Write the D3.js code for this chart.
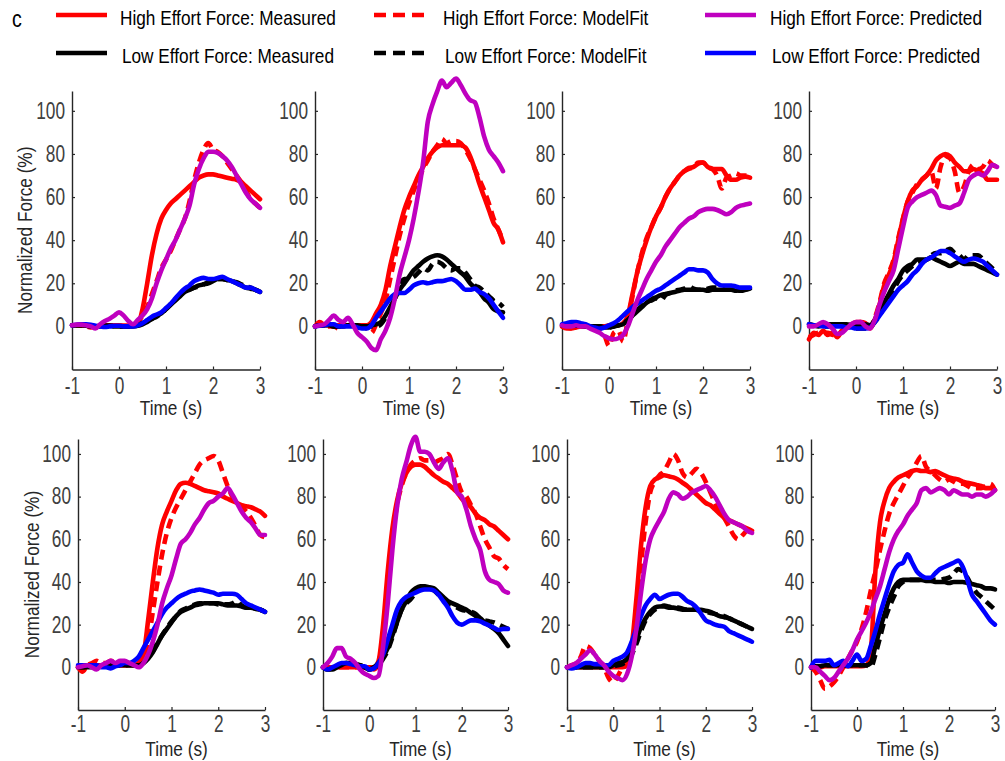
<!DOCTYPE html>
<html>
<head>
<meta charset="utf-8">
<script src="https://cdn.jsdelivr.net/npm/d3@7"></script>
<style>
  html, body { margin: 0; padding: 0; background: #fff; }
  svg { display: block; }
  text { font-family: "Liberation Sans", Arial, sans-serif; }
</style>
</head>
<body>
<svg id="chart" width="1005" height="761"></svg>
<script>
// Time base shared by every trace (seconds)
const time = [-1,-0.9,-0.8,-0.7,-0.6,-0.5,-0.4,-0.3,-0.2,-0.1,0,0.1,0.2,0.3,0.4,0.5,0.6,0.7,0.8,0.9,
  1,1.1,1.2,1.3,1.4,1.5,1.6,1.7,1.8,1.9,2,2.1,2.2,2.3,2.4,2.5,2.6,2.7,2.8,2.9,3];

const seriesNames = [
  "High Effort Force: Measured", "High Effort Force: ModelFit", "High Effort Force: Predicted",
  "Low Effort Force: Measured", "Low Effort Force: ModelFit", "Low Effort Force: Predicted"
];
const xTicks = [-1, 0, 1, 2, 3];
const yTicks = [0, 20, 40, 60, 80, 100];

// Each panel: [high measured, high fit, high predicted, low measured, low fit, low predicted]
const panel1 = [
  [0.5,0.5,0.3,0.3,0,0,0.3,0.5,0.5,0.5, 0.5,0.3,0.3,0.3,1,8,20,33,43,50, 54,57,59,61,63,65,67,69,70,70.5, 70.5,70,69.5,69,68.5,68,67,65,63,61, 59],
  [0.5,0.5,0.3,0,-0.5,0,0.3,0.5,0.5,0.5, 0.3,0.3,0.3,0.5,2,5,9,15,21,27, 31,35,40,45,50,58,68,76,82,85, 82,81,79,76,73,70,67,63,59,57, 55],
  [0.5,0.8,0.8,0.5,0,-1,1,2.5,3.5,5, 6.5,5,2.5,1,3,5,8,13,20,26, 31,36,40,45,50,56,66,73,78,81, 81,80.5,79,77,74,70,66,62,59,57, 55],
  [0.5,0.5,0.5,0.3,0,0,0,0.3,0.3,0, 0,0,0,0,0.3,1,2,3.5,5,6, 8,10,12,14,16,17,18,19,19.5,20, 21,22,22,21.5,21,20,19,18,17.5,17, 16],
  [0.5,0.5,0.5,0.3,0,0,0,0.3,0.3,0, 0,0,0,0,0.5,1.5,2.5,3.5,4.5,6, 8,10.5,12.5,14.5,16,17,18,18.5,19.5,20.5, 21.5,22,22,21.5,21,20.5,19.5,18.5,18,17, 16],
  [0.5,0.8,1,1,0.8,0.3,0,-0.3,0,0.3, 0.3,0,0,0,0.5,1.5,3,4.5,5.5,6.5, 8.5,10.5,13,15.5,17.5,19,21,22,22.5,22, 22,22.5,23,22,21,20,19,18,18,17, 16]
];
const panel2 = [
  [0,0.5,0.5,0.5,0.5,0.5,0.5,0.5,0.5,0.5, 0.5,0.5,2,6,10,17,28,37,46,54, 60,65,70,74,78,81,83,84,84,84, 84,84,83,79,73,66,60,54,48,45, 39],
  [0,2,0.5,0,0,-1,0,0.5,1,0.5, 0,-1,-3,1,6,12,22,32,42,50, 57,63,68,73,77,81,84,87,85,86, 86,85,82,78,73,68,63,57,50,45, 40],
  [0,0.5,1,3,5,3,2,4,1,-3, -5,-7,-10,-11,-6,-2,4,13,24,32, 40,50,62,76,95,103,109,114,111,113, 115,112,108,105,104,97,88,82,79,76, 72],
  [0,0.5,0.5,0.5,0,0,0,0.5,0.5,0.5, 0,0,0.5,1,2,5,9,13,17,20, 23,26,28,30,31.5,32.5,33,32.5,31,29, 27,25,23,20,18,16,13,11,8,7, 6.5],
  [0,0.5,0.5,0.5,0,0,0,0.5,0.5,0.5, 0,0,0,0,1,4,8,13,19,22, 22,23,25,27,26,29,30,29,27,26, 27,27,25,22,19,18,16,14,12,11, 9],
  [0,0.3,0.5,1,1,0,0,0,0,-0.5, -1,-1,0.5,4,7,10,13,15,15.5,15.5, 17,19,20,20.5,20,20.5,21,21,21.5,22, 21,19,17,17,17.5,16,15,13,10,7, 4]
];
const panel3 = [
  [0,-0.5,-1,-0.5,0,0,0,0,0,0, 0.5,0.5,0.5,1.5,5,15,25,33,40,46, 51,55,60,64,67,70,72,73.5,74,75.5, 76,74,73,73,73,70,68,68,69,69.5, 69],
  [0,-1,-1,0,0,0,0,0,-1,-4, -9,-3,-2,-7,3,14,25,34,41,46, 51,55,60,64,67,70,72,73,74,76, 76,74,73,70,64,69,70,71,70,70, 69],
  [0.5,0,0,0.5,0,0,-1,-2,-3,-4.5, -5.5,-6,-5.5,-4,0,6,12,17,22,26, 30,33,37,40,43,46,48,50,51,53, 54,54.5,54.5,54,53,52,53,55,56,56.5, 57],
  [0.5,0.5,0.5,0.3,0.3,0,0,0,0,-0.5, -0.5,0,0.5,1,3,5,7,9,11,12.5, 13.5,14.5,15,15.5,16,16.5,17,17,17,17, 17,16.5,17,17,17,17,17,16.5,17,17, 17.5],
  [0.5,0.5,0.5,0.3,0.3,0,0,0,0,-0.5, -0.5,0,0.5,1.5,3,5,7.5,9.5,11.5,12, 13,12,14.5,15.5,16.5,17,17.5,18.5,17.5,17, 17,17.5,18,18,17.5,17,17,16.5,16.5,17, 18],
  [1,1.5,2,2,1.5,1,0,-0.5,-1,-0.5, 0.5,1.5,3,5,7,9,10.5,12,13.5,15, 16.5,17.5,19,20.5,22,23.5,25,26.5,26.5,26, 26,25,22,20,19,19,19,18.5,18,18, 18]
];
const panel4 = [
  [-6,-3,-4,-2,-4,-3,-5,-2,0,1, 2,2,1.5,-1,3,10,19,24,30,40, 50,58,63,65,68,70,73,77,79,80, 79,76,74,72,72,73,72,71,68,68, 68],
  [-5,-4,-3,-3,-3,-4,-4,-2,-0.5,0.5, 1.5,2,1,0,4,11,20,25,31,41, 50,58,62,66,68,70,72,64,74,79, 78,72,62,65,72,75,73,74,77,75, 74],
  [0,0,1,2,1,-1,-3.5,-3,-1,1, 2,2,0,-1,3,10,16,21,26,36, 46,55,58,60,61,62,63,61,56,55.5, 55,56,57,62,68,70,71,70,72,75, 74],
  [1,0.5,0,0.5,1,1,1,1,1,0.5, 0,0.5,1,0.5,3,7,11,15,19,22, 26,28,29,31,31,31,32,31,30,29, 28,29,30,29,29,29,28,27,26,25, 24],
  [1,0.5,0.5,0,0,0.5,0.5,0.5,0.5,0, -1,-1,-1,-0.5,2,5,9,13,17,21, 24,26,28,29,30,31,33,34,34,35, 36,34,33,31,33,33,33,31,29,27, 25],
  [1,0.5,0.5,0,0,0,0,0,-0.5,-0.5, -1,-1,-1,-0.5,2,5,8,11,14,17, 19,21,24,26,29,31,32,33.5,35,35, 34,32.5,31,30,31,31.5,31,30,28,26, 24]
];
const panel5 = [
  [0,-1,0.5,1,1,1,1,1,1,1, 1,1,1,2,6,22,40,56,67,73, 78,83,86,86.5,86,85,84,83,82.5,82, 81.5,80,79,78,77,76,75.5,75,74,73, 71],
  [0,-2,1,2,3,2,2,3,2,1, 1,1,1,2,5,12,26,40,53,63, 70,75,79,83,87,91,95,97,98,99, 97,91,85,80,77,75,73,70,66,62, 61],
  [0,0.5,1,0,-1,1,2,3,2,3, 3,2,1,0,2,6,12,20,30,37, 43,51,58,60,63,67,70,74,77,78, 80,81.5,84,81,77,73,70,68,65,62, 62],
  [0,0,0,0,0,0.5,0.5,0.5,1,1, 1,1,1,1,2,4,7,11,15,18, 21,24,26,27,28,29,29.5,30,30,30, 30,29.5,29,29,29,28.5,28,28,27.5,27, 26],
  [0,0,0.5,0.5,0.5,0.5,0.5,1,1,1, 1,1,1,1,2,4.5,7.5,11.5,15,18.5, 21.5,24,26.5,27.5,28.5,29.5,30,30,30,30, 29.5,29.5,29.5,30,31,29,28,28,27.5,27, 26],
  [1,1,1,1,1,0,0,-0.5,0.5,1, 2,2,3,5,9,13,17,21,25,28, 30,32,33.5,34.5,35.5,36,36.5,36,35.5,35, 34,34.5,34.5,34.5,34,32,30,29,28,27, 26]
];
const panel6 = [
  [0,0,0,0,0,0,0,0,0,0, 0,0,3,20,45,65,78,86,91,94, 95,95,94,92,90,88.5,87,86,84,82, 79,77,75,72,70,69,67,66,64,62, 60],
  [0,0,0,0,0,0,0,0,0,0, 0,-1,2,15,38,60,76,85,91,95, 97,98,97,97,96,97,98,100,95,88, 82,80,76,72,66,60,56,52,51,48, 46],
  [0,2,5,9,9,5,4,2,-1,-3, -4,-5,-4,10,30,55,75,88,96,104, 108,101,101,100,96,93,96,98,92,82, 80,74,66,60,55,45,41,40,39,36, 35],
  [0,-1,-1,0,1,2,2,1.5,1,0, -1,0,2,5,9,15,21,27,31,35, 37,38,38,37.5,37,35,33,31,30,29, 28,27,25.5,24,23,21,19.5,18,16,13, 10],
  [0,-1,-0.5,0.5,1.5,2,2,1.5,1,0, -1,0,1,4,8,14,21,27,30,32, 35,37,38,37.5,36,34,32,30,29,28, 27,26.5,26,25,23,22,21.5,21,20,19, 18],
  [0,-1,0,1,2,2,1.5,1,0.5,0.5, -1,-0.5,2,6,13,20,27,31,33,34, 35,36,36.5,36.5,36,34,31,28,24,21, 20,21,22,22,21.5,20.5,19.5,18.5,17.5,18, 18]
];
const panel7 = [
  [0,0,0,0,0,0,0,0,0,0, 0,0,0,1,10,32,57,75,85,88, 89,90,89.5,89,88,86.5,85,83,81,79, 77,76,74,72,70,69,68,67,66,65, 64],
  [0,1,2,5,10,9,6,3,0,-5, -7,-4,0,2,8,25,48,68,82,87, 90,92,96,100,97,91,89,91,93,91, 87,82,77,73,70,66,62,60,62,64, 64],
  [0,1,2,4,6,8,6,3,1,-2, -4,-5,-6,-3,5,18,35,50,60,65, 69,73,79,82,81,79,80,82,83,84, 85,83,80,76,72,69,68,67,66,64, 63],
  [0,0,0,0,0,0,0,0,0,0, 1,2,2.5,4,8,13,19,23,26,28, 28.5,28.5,28,28,27.5,27,27,27,27,27, 26.5,26,25,24,23.5,23,22,21,20,19, 18],
  [0,0,0,0,0,0,0,0,0,0, 0.5,1,1.5,3,6,11,17,22,25,27, 28,29,28.5,28,28,27.5,27,28,27,26.5, 26,25.5,25,24.5,24,23,22,21,20,19, 18],
  [0,-0.5,0,1,2,2,1.5,1.5,1,1, 3,4,5,7,12,18,24,29,32,34, 32,33,34,34.5,34.5,33,31,30,28,25, 22,21,20,19.5,19,17,16,15,14,13, 12]
];
const panel8 = [
  [0,0,0,0.5,0.5,0.5,0.5,0.5,0.5,0.5, 0.5,0.5,1,8,45,68,78,84,87,89, 90,91,92,92.5,92,92,91.5,92,91,90, 89,88.5,88,87,86.5,86,85.5,85,84,84, 83],
  [0,-2,-6,-10,-9,-7,-4,0,4,8, 12,18,26,36,45,55,64,72,77,81, 85,89,92,96,99,94,92,90,88,87, 88,87,86,86,85,84,84,84,85,86, 83],
  [0,0,-2,-4,-6,-5,-2,1,4,8, 13,17,21,26,32,38,46,54,60,64, 67,71,74,77,83,84,82,83,84,83, 81,83,82,81,81,80,81,81,80,81, 83],
  [0,0.5,0.5,1,1,1,1,1,1,1, 1,1,1,2,10,18,25,32,37,40, 41,41,41,41,41,40.5,40.5,40,40,40, 39.5,40,40,40,39.5,39,38.5,38,37,37, 36.5],
  [0,0.5,0.5,1,1,1,1,1,1,1, 1,1,1,0,6,14,22,28,33,38, 40,41,41,41,41,41,41,41,41,41.5, 42,44,46,45,42,38,35,33,31,29, 27],
  [0,3,3,3,3.5,1,2,3,0.5,3, 6,3,4,10,17,25,32,39,45,48, 49,53,49,45,43,42,42,44,46,47, 48,49,50,47,41,34,31,28,25,22, 20]
];

const panels = [panel1, panel2, panel3, panel4, panel5, panel6, panel7, panel8];

// Trace styling (indexed like seriesNames)
const traceColor = ["#ff0000", "#ff0000", "#bf00bf", "#000000", "#000000", "#0000ff"];
const traceDashed = [false, true, false, false, true, false];
// Stacking order of the traces inside a panel (last one on top)
const drawOrder = [0, 1, 3, 4, 5, 2];

// Panel placement
const rowsLayout = [
  { bottom: 369.5, top: 91, yMax: 109.2, xPad: 8, labelX: 25, labelBase: 415 },
  { bottom: 710, top: 439, yMax: 107, xPad: 6, labelX: 32, labelBase: 756 }
];
const boxes = [
  { x0: 72, x1: 260, row: 0 }, { x0: 315, x1: 503, row: 0 }, { x0: 562, x1: 750, row: 0 }, { x0: 809, x1: 997, row: 0 },
  { x0: 78, x1: 265, row: 1 }, { x0: 323, x1: 508, row: 1 }, { x0: 567, x1: 752, row: 1 }, { x0: 811, x1: 995, row: 1 }
];

const AXIS_COLOR = "#262626";
const TICK_TEXT = "#404040";
const FONT_SIZE = 21;
const TICK_FONT_SIZE = 23;

// Squeeze a label horizontally about its anchor point, giving a narrow sans face
function narrow(sel, k) {
  sel.each(function () {
    const x0 = parseFloat(this.getAttribute("x")) || 0;
    const prev = this.getAttribute("transform") || "";
    this.setAttribute("transform",
      `${prev} translate(${x0},0) scale(${k},1) translate(${-x0},0)`.trim());
  });
}

const svg = d3.select("#chart");
svg.append("rect").attr("width", 1005).attr("height", 761).attr("fill", "#fff");

function styleAxis(g) {
  g.attr("font-family", null).attr("font-size", null);
  g.select(".domain").attr("stroke", AXIS_COLOR).attr("stroke-width", 1.4);
  g.selectAll(".tick line").attr("stroke", AXIS_COLOR).attr("stroke-width", 1.2);
  g.selectAll(".tick text").attr("fill", TICK_TEXT)
    .style("font-size", TICK_FONT_SIZE + "px").call(narrow, 0.75);
}

panels.forEach((series, p) => {
  const box = boxes[p];
  const row = rowsLayout[box.row];
  const x = d3.scaleLinear().domain([-1, 3]).range([box.x0, box.x1]);
  const y = d3.scaleLinear().domain([-20, row.yMax]).range([row.bottom, row.top]);
  const g = svg.append("g").attr("class", "panel");

  g.append("g")
    .attr("transform", `translate(0,${row.bottom})`)
    .call(d3.axisBottom(x).tickValues(xTicks).tickFormat(d => String(d))
      .tickSize(-3).tickSizeOuter(0).tickPadding(row.xPad))
    .call(styleAxis);

  g.append("g")
    .attr("transform", `translate(${box.x0},0)`)
    .call(d3.axisLeft(y).tickValues(yTicks).tickFormat(d => String(d))
      .tickSize(-3).tickSizeOuter(0).tickPadding(7))
    .call(styleAxis);

  const line = d3.line()
    .x((d, i) => x(time[i]))
    .y(d => y(d))
    .curve(d3.curveMonotoneX);

  drawOrder.forEach(s => {
    g.append("path")
      .attr("d", line(series[s]))
      .attr("fill", "none")
      .attr("stroke", traceColor[s])
      .attr("stroke-width", 4.6)
      .attr("stroke-linejoin", "round")
      .attr("stroke-linecap", traceDashed[s] ? "butt" : "round")
      .attr("stroke-dasharray", traceDashed[s] ? "10,6" : null);
  });

  g.append("text")
    .attr("x", (box.x0 + box.x1) / 2 + 5)
    .attr("y", row.labelBase)
    .attr("text-anchor", "middle")
    .attr("fill", AXIS_COLOR)
    .style("font-size", FONT_SIZE + "px")
    .text("Time (s)")
    .call(narrow, 0.82);

  if (p % 4 === 0) {
    const cy = (row.bottom + row.top) / 2;
    g.append("text")
      .attr("transform", `translate(${row.labelX},${cy}) rotate(-90)`)
      .attr("text-anchor", "middle")
      .attr("dominant-baseline", "central")
      .attr("fill", AXIS_COLOR)
      .style("font-size", FONT_SIZE + "px")
      .text("Normalized Force (%)")
      .call(narrow, 0.82);
  }
});

// Panel letter
svg.append("text").attr("x", 12).attr("y", 27)
  .attr("fill", "#000").style("font-size", "23px").text("c").call(narrow, 0.85);

// Legend: three columns, high effort on top row, low effort below
const legendCols = [
  { lx: 56, tx: 120 },
  { lx: 374, tx: 443 },
  { lx: 705, tx: 770 }
];
const legendRows = [{ ly: 15, ty: 25 }, { ly: 53, ty: 63 }];
seriesNames.forEach((name, s) => {
  const col = legendCols[s % 3];
  const row = legendRows[Math.floor(s / 3)];
  const lg = svg.append("g").attr("class", "legend-item");
  lg.append("line")
    .attr("x1", col.lx).attr("x2", col.lx + 51)
    .attr("y1", row.ly).attr("y2", row.ly)
    .attr("stroke", traceColor[s]).attr("stroke-width", 4.6)
    .attr("stroke-dasharray", traceDashed[s] ? "12,7" : null);
  lg.append("text")
    .attr("x", col.tx + (s >= 3 ? 2 : 0)).attr("y", row.ty)
    .attr("fill", "#000")
    .style("font-size", FONT_SIZE + "px")
    .text(name)
    .call(narrow, 0.82);
});
</script>
</body>
</html>
